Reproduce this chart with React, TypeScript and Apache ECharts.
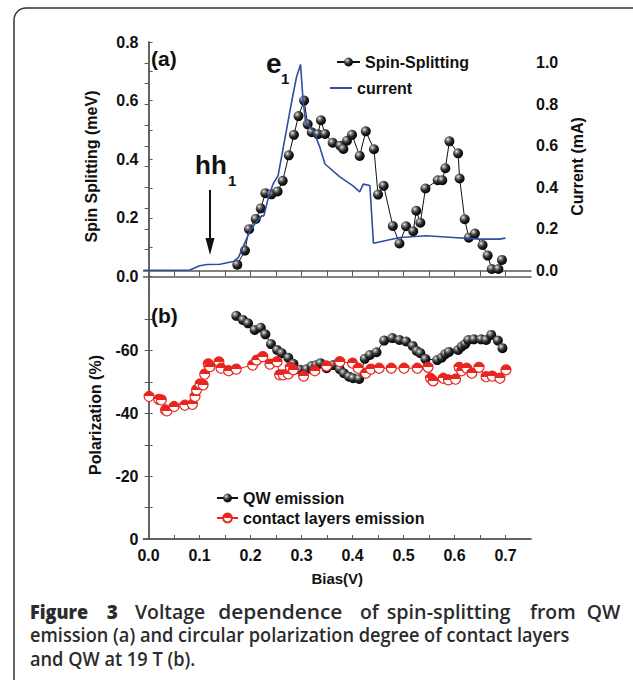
import React, { useEffect, useRef } from "react";
import * as echarts from "echarts";

// ---- data (bias in V) ----
const spinSplitting: [number, number][] = [
  [0.174, 0.04], [0.189, 0.088], [0.197, 0.161], [0.21, 0.196], [0.22, 0.232],
  [0.229, 0.284], [0.241, 0.28], [0.253, 0.29], [0.263, 0.326], [0.275, 0.413],
  [0.285, 0.483], [0.294, 0.547], [0.305, 0.6], [0.312, 0.519], [0.32, 0.492],
  [0.332, 0.485], [0.338, 0.533], [0.346, 0.486], [0.361, 0.456], [0.376, 0.446],
  [0.382, 0.435], [0.389, 0.463], [0.399, 0.483], [0.414, 0.411], [0.426, 0.495],
  [0.442, 0.434], [0.45, 0.279], [0.461, 0.309], [0.479, 0.172], [0.492, 0.112],
  [0.505, 0.171], [0.519, 0.154], [0.525, 0.224], [0.533, 0.183], [0.543, 0.3],
  [0.567, 0.328], [0.576, 0.328], [0.582, 0.369], [0.59, 0.461], [0.607, 0.42],
  [0.61, 0.334], [0.62, 0.195], [0.628, 0.132], [0.64, 0.146], [0.655, 0.107],
  [0.665, 0.071], [0.673, 0.025], [0.686, 0.025], [0.693, 0.056],
];

const currentMA: [number, number][] = [
  [-0.01, 0.0], [0.08, 0.0], [0.1, 0.022], [0.115, 0.028], [0.14, 0.029],
  [0.166, 0.042], [0.176, 0.061], [0.199, 0.19], [0.208, 0.222], [0.222, 0.262],
  [0.226, 0.262], [0.235, 0.351], [0.244, 0.415], [0.254, 0.456], [0.281, 0.818],
  [0.29, 0.93], [0.298, 0.992], [0.303, 0.818], [0.308, 0.713], [0.323, 0.673],
  [0.336, 0.592], [0.346, 0.512], [0.375, 0.45], [0.401, 0.407], [0.414, 0.378],
  [0.421, 0.415], [0.434, 0.408], [0.441, 0.13], [0.493, 0.158], [0.545, 0.166],
  [0.597, 0.158], [0.649, 0.15], [0.688, 0.15], [0.7, 0.155],
];

const qwEmission: [number, number][] = [
  [0.172, -71.1], [0.185, -69.8], [0.195, -68.7], [0.208, -66.6], [0.22, -67.3],
  [0.229, -65.2], [0.24, -62.1], [0.252, -60.2], [0.261, -59.2], [0.274, -57.7],
  [0.284, -55.8], [0.297, -53.9], [0.31, -54.1], [0.32, -55.1], [0.329, -55.4],
  [0.337, -56.0], [0.349, -54.4], [0.362, -55.4], [0.375, -54.1], [0.383, -52.8],
  [0.393, -51.7], [0.401, -51.2], [0.413, -51.0], [0.424, -57.4], [0.434, -58.6],
  [0.447, -59.5], [0.462, -63.2], [0.478, -64.0], [0.492, -63.4], [0.505, -62.9],
  [0.518, -61.5], [0.526, -59.9], [0.533, -59.2], [0.543, -57.3], [0.566, -57.0],
  [0.575, -57.8], [0.582, -58.9], [0.589, -59.6], [0.607, -60.2], [0.614, -61.3],
  [0.621, -62.1], [0.627, -63.4], [0.638, -63.6], [0.652, -63.6], [0.662, -63.4],
  [0.672, -65.0], [0.685, -63.2], [0.694, -60.8],
];

const contactEmission: [number, number][] = [
  [0.001, -45.4], [0.02, -44.5], [0.025, -44.3], [0.033, -41.1], [0.036, -40.8],
  [0.05, -42.2], [0.071, -42.6], [0.086, -42.9], [0.091, -45.4], [0.094, -47.5],
  [0.101, -49.4], [0.107, -49.1], [0.11, -52.5], [0.117, -55.8], [0.12, -54.9],
  [0.138, -56.4], [0.142, -54.4], [0.157, -53.6], [0.172, -54.1], [0.204, -55.4],
  [0.212, -57.0], [0.224, -58.1], [0.238, -55.7], [0.252, -56.5], [0.257, -52.3],
  [0.264, -52.3], [0.274, -52.6], [0.278, -54.7], [0.284, -53.9], [0.304, -51.9],
  [0.326, -53.6], [0.349, -55.1], [0.375, -56.5], [0.4, -56.0], [0.411, -54.4],
  [0.426, -52.8], [0.436, -54.1], [0.452, -54.4], [0.476, -54.4], [0.501, -54.4],
  [0.527, -54.4], [0.548, -54.7], [0.553, -51.2], [0.558, -50.4], [0.578, -51.2],
  [0.588, -50.7], [0.602, -50.9], [0.609, -54.7], [0.614, -53.6], [0.624, -54.4],
  [0.634, -52.8], [0.648, -54.7], [0.662, -51.7], [0.674, -51.9], [0.689, -51.2],
  [0.701, -53.9],
];

// ---- ticks ----
const biasLabels = [0, 0.1, 0.2, 0.3, 0.4, 0.5, 0.6, 0.7];
const biasTicks = [0, 0.05, 0.1, 0.15, 0.2, 0.25, 0.3, 0.35, 0.4, 0.45, 0.5, 0.55, 0.6, 0.65, 0.7];
const spinLabels = [0, 0.2, 0.4, 0.6, 0.8];
const spinTicks = [0, 0.1, 0.2, 0.3, 0.4, 0.5, 0.6, 0.7, 0.8];
const currentLabels = [0, 0.2, 0.4, 0.6, 0.8, 1.0];
const currentTicks = [0, 0.1, 0.2, 0.3, 0.4, 0.5, 0.6, 0.7, 0.8, 0.9, 1.0];
const polLabels = [-60, -40, -20, 0];
const polTicks = [-70, -60, -50, -40, -30, -20, -10, 0];

const captionLine1 = ["Figure", "3", "Voltage", "dependence", "of", "spin-splitting", "from", "QW"];
const captionLine2 = "emission (a) and circular polarization degree of contact layers";
const captionLine3 = "and QW at 19 T (b).";

const FONT = "'Liberation Sans', Arial, sans-serif";
const AXIS_COLOR = "#5a5a5a";
const BLUE = "#2f4ea3";
const RED = "#e8261f";

export default function App() {
  const ref = useRef<HTMLDivElement>(null);

  useEffect(() => {
    document.body.style.margin = "0";
    const chart = echarts.init(ref.current!, undefined, { renderer: "svg" });

    const sphere = {
      type: "radial", x: 0.35, y: 0.32, r: 0.7,
      colorStops: [
        { offset: 0, color: "#f2f2f2" },
        { offset: 0.22, color: "#8a8a8a" },
        { offset: 0.55, color: "#2a2a2a" },
        { offset: 1, color: "#000" },
      ],
    };
    const halfRed = {
      type: "linear", x: 0, y: 0, x2: 0, y2: 1,
      colorStops: [
        { offset: 0, color: RED },
        { offset: 0.5, color: RED },
        { offset: 0.5, color: "#fff" },
        { offset: 1, color: "#fff" },
      ],
    };

    const labelStyle = { color: "#111", fontFamily: FONT, fontWeight: "bold", fontSize: 16 };
    const nameStyle = { color: "#111", fontFamily: FONT, fontWeight: "bold", fontSize: 16 };
    const line = { show: true, lineStyle: { color: AXIS_COLOR, width: 1.5 } };
    const tick = (vals: number[]) => ({
      show: true, inside: true, length: 4, customValues: vals,
      lineStyle: { color: AXIS_COLOR, width: 1 },
    });
    const fix1 = (v: number) => v.toFixed(1);

    const grid0 = { left: 143.5, top: 42, width: 387.5, height: 249, outerBoundsMode: "none" };
    const grid1 = { left: 143.5, top: 291, width: 387.5, height: 248, outerBoundsMode: "none" };

    const cap = (text: string, x: number, y: number, weight: any, sx: number) => ({
      type: "text", x, y, scaleX: sx, scaleY: 1,
      style: { text, fill: "#2b2b2b", font: `${weight} 19px 'Open Sans', 'Noto Sans', sans-serif`, verticalAlign: "middle", align: "left", lineHeight: 19 },
    });
    const line1X = [30, 106.7, 135, 218.3, 360, 386.7, 530, 586.7];
    const line1S = [0.95, 1, 1.02, 1.1, 1.02, 1.04, 1.02, 1.02];

    chart.setOption({
      animation: false,
      grid: [grid0, grid1],
      xAxis: [
        { gridIndex: 0, type: "value", position: "bottom", min: -0.01, max: 0.75,
          axisLine: line, axisTick: tick(biasTicks), axisLabel: { show: false }, splitLine: { show: false } },
        { gridIndex: 0, type: "value", position: "top", min: -0.01, max: 0.75,
          axisLine: line, axisTick: tick(biasTicks), axisLabel: { show: false }, splitLine: { show: false } },
        { gridIndex: 1, type: "value", position: "bottom", min: -0.01, max: 0.75,
          axisLine: line, axisTick: tick(biasTicks),
          axisLabel: { ...labelStyle, customValues: biasLabels, formatter: fix1, margin: 8 },
          splitLine: { show: false },
          name: "Bias(V)", nameLocation: "middle", nameGap: 32, nameTextStyle: { ...nameStyle, fontSize: 15 } },
        { gridIndex: 1, type: "value", position: "top", min: -0.01, max: 0.75,
          axisLine: line, axisTick: { show: false }, axisLabel: { show: false }, splitLine: { show: false } },
      ],
      yAxis: [
        { gridIndex: 0, type: "value", position: "left", min: -0.05, max: 0.8,
          axisLine: line, axisTick: tick(spinTicks),
          axisLabel: { ...labelStyle, customValues: spinLabels, formatter: fix1, margin: 5 },
          splitLine: { show: false },
          name: "Spin Splitting (meV)", nameLocation: "middle", nameGap: 44, nameRotate: 90, nameTextStyle: nameStyle },
        { gridIndex: 0, type: "value", position: "right", min: -0.1, max: 1.1,
          axisLine: line, axisTick: tick(currentTicks),
          axisLabel: { ...labelStyle, customValues: currentLabels, formatter: fix1, margin: 5 },
          splitLine: { show: false },
          name: "Current (mA)", nameLocation: "middle", nameGap: 33, nameRotate: 90, nameTextStyle: nameStyle },
        { gridIndex: 1, type: "value", position: "left", min: -79, max: 0, inverse: true,
          axisLine: line, axisTick: tick(polTicks),
          axisLabel: { ...labelStyle, customValues: polLabels, formatter: (v: number) => String(v), margin: 5 },
          splitLine: { show: false },
          name: "Polarization (%)", nameLocation: "middle", nameGap: 40, nameRotate: 90, nameTextStyle: nameStyle },
        { gridIndex: 1, type: "value", position: "right", min: -79, max: 0, inverse: true,
          axisLine: line, axisTick: tick(polTicks), axisLabel: { show: false }, splitLine: { show: false } },
      ],
      legend: [
        { data: ["Spin-Splitting"], left: 336, top: 54, padding: 0, itemWidth: 23, itemHeight: 11,
          textStyle: { ...labelStyle }, selectedMode: false },
        { data: [{ name: "current", icon: "rect", itemStyle: { color: BLUE } }], left: 330, top: 80, padding: 0,
          itemWidth: 22, itemHeight: 2, textStyle: { ...labelStyle }, selectedMode: false },
        { data: ["QW emission", "contact layers emission"], left: 216, top: 490, orient: "vertical",
          padding: 0, itemGap: 4, itemWidth: 21, itemHeight: 11, textStyle: { ...labelStyle }, selectedMode: false },
      ],
      series: [
        { name: "Spin-Splitting", type: "line", xAxisIndex: 0, yAxisIndex: 0, data: spinSplitting,
          symbol: "circle", symbolSize: 10, itemStyle: { color: sphere },
          lineStyle: { color: "#111", width: 1 }, emphasis: { disabled: true }, z: 2 },
        { name: "current", type: "line", xAxisIndex: 0, yAxisIndex: 1, data: currentMA,
          symbol: "none", lineStyle: { color: BLUE, width: 1.6 }, itemStyle: { color: BLUE },
          emphasis: { disabled: true }, z: 3 },
        { name: "QW emission", type: "line", xAxisIndex: 2, yAxisIndex: 2, data: qwEmission,
          symbol: "circle", symbolSize: 10, itemStyle: { color: sphere },
          lineStyle: { color: "#111", width: 1 }, emphasis: { disabled: true }, z: 2 },
        { name: "contact layers emission", type: "line", xAxisIndex: 2, yAxisIndex: 2, data: contactEmission,
          symbol: "circle", symbolSize: 10, itemStyle: { color: halfRed, borderColor: RED, borderWidth: 1.2 },
          lineStyle: { color: RED, width: 1 }, emphasis: { disabled: true }, z: 3 },
      ],
      graphic: [
        { type: "rect", shape: { x: 14, y: 8, width: 640, height: 700, r: 12 },
          style: { fill: "none", stroke: "#333", lineWidth: 1.5 }, silent: true },
        { type: "text", x: 151, y: 58, style: { text: "(a)", fill: "#111", font: `bold 21px ${FONT}`, verticalAlign: "middle" } },
        { type: "text", x: 151, y: 315, style: { text: "(b)", fill: "#111", font: `bold 21px ${FONT}`, verticalAlign: "middle" } },
        { type: "text", x: 266, y: 63, style: { text: "e", fill: "#111", font: `bold 28px ${FONT}`, verticalAlign: "middle" } },
        { type: "text", x: 281, y: 78, style: { text: "1", fill: "#111", font: `bold 15px ${FONT}`, verticalAlign: "middle" } },
        { type: "text", x: 195, y: 165, style: { text: "hh", fill: "#111", font: `bold 26px ${FONT}`, verticalAlign: "middle" } },
        { type: "text", x: 228, y: 180, style: { text: "1", fill: "#111", font: `bold 15px ${FONT}`, verticalAlign: "middle" } },
        { type: "line", shape: { x1: 210, y1: 190, x2: 210, y2: 242 }, style: { stroke: "#111", lineWidth: 2 } },
        { type: "polygon", shape: { points: [[205.5, 238], [214.5, 238], [210, 255]] }, style: { fill: "#111" } },
        ...captionLine1.map((w, i) => cap(w, line1X[i], 611.5, i < 2 ? 800 : 600, line1S[i])),
        cap(captionLine2, 30, 634.5, 600, 0.958),
        cap(captionLine3, 30, 658.5, 600, 0.958),
      ],
    } as any);

    return () => chart.dispose();
  }, []);

  return <div ref={ref} style={{ width: 633, height: 680 }} />;
}
